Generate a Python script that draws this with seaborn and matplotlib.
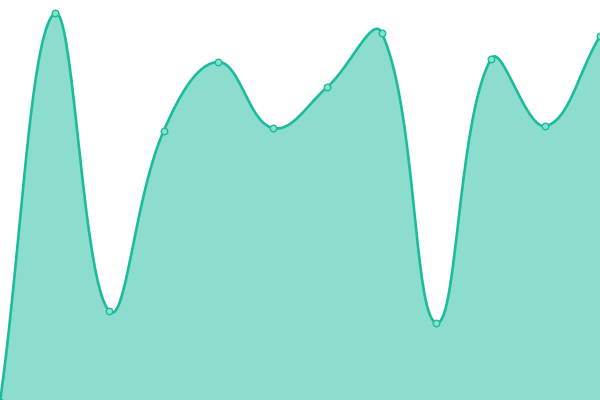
import numpy as np
import pandas as pd
import matplotlib
matplotlib.use("Agg")
import matplotlib.pyplot as plt
import seaborn as sns

sns.set_theme(style="white")

# data (0 = bottom edge, 400 = top edge)
labels = list(range(12))
values = [-2, 387, 89, 269, 338, 272, 313, 367, 77, 341, 274, 364]

LINE = "#1abc9c"
W, H = 600, 400
tension = 0.4


def smooth_path(xs, ys, t=0.4, steps=40):
    # Chart.js-style spline: control points from neighbour distances (pixel space)
    px = np.asarray(xs, float) * (W / (len(xs) - 1))
    py = np.asarray(ys, float)
    n = len(px)
    cp_prev, cp_next = [], []
    for i in range(n):
        p0 = (px[max(i - 1, 0)], py[max(i - 1, 0)])
        p1 = (px[i], py[i])
        p2 = (px[min(i + 1, n - 1)], py[min(i + 1, n - 1)])
        d01 = np.hypot(p1[0] - p0[0], p1[1] - p0[1])
        d12 = np.hypot(p2[0] - p1[0], p2[1] - p1[1])
        s01 = d01 / (d01 + d12) if d01 + d12 else 0
        s12 = d12 / (d01 + d12) if d01 + d12 else 0
        fa, fb = t * s01, t * s12
        cp_prev.append((p1[0] - fa * (p2[0] - p0[0]), p1[1] - fa * (p2[1] - p0[1])))
        cp_next.append((p1[0] + fb * (p2[0] - p0[0]), p1[1] + fb * (p2[1] - p0[1])))
    out_x, out_y = [px[0]], [py[0]]
    u = np.linspace(0, 1, steps)[1:]
    for i in range(n - 1):
        a = (px[i], py[i])
        b = (min(max(cp_next[i][0], 0), W), min(max(cp_next[i][1], 0), H))
        c = (min(max(cp_prev[i + 1][0], 0), W), min(max(cp_prev[i + 1][1], 0), H))
        d = (px[i + 1], py[i + 1])
        bx = (1 - u) ** 3 * a[0] + 3 * (1 - u) ** 2 * u * b[0] + 3 * (1 - u) * u ** 2 * c[0] + u ** 3 * d[0]
        by = (1 - u) ** 3 * a[1] + 3 * (1 - u) ** 2 * u * b[1] + 3 * (1 - u) * u ** 2 * c[1] + u ** 3 * d[1]
        out_x.extend(bx)
        out_y.extend(by)
    return np.array(out_x) / (W / (n - 1)), np.array(out_y)


sx, sy = smooth_path(labels, values, tension)
curve = pd.DataFrame({"x": sx, "y": sy})
pts = pd.DataFrame({"x": labels, "y": values})

fig = plt.figure(figsize=(6, 4), dpi=100)
ax = fig.add_axes([0, 0, 1, 1])

ax.fill_between(curve["x"], curve["y"], 0, color=LINE, alpha=0.5, linewidth=0)
sns.lineplot(data=curve, x="x", y="y", ax=ax, color=LINE, linewidth=1.9,
             sort=False, estimator=None)
sns.scatterplot(data=pts, x="x", y="y", ax=ax, s=22, color="#8ae0cf",
                edgecolor=LINE, linewidth=1, zorder=5)

ax.set_xlim(0, len(labels) - 1)
ax.set_ylim(0, H)
ax.axis("off")

fig.savefig("out.png", dpi=100)
